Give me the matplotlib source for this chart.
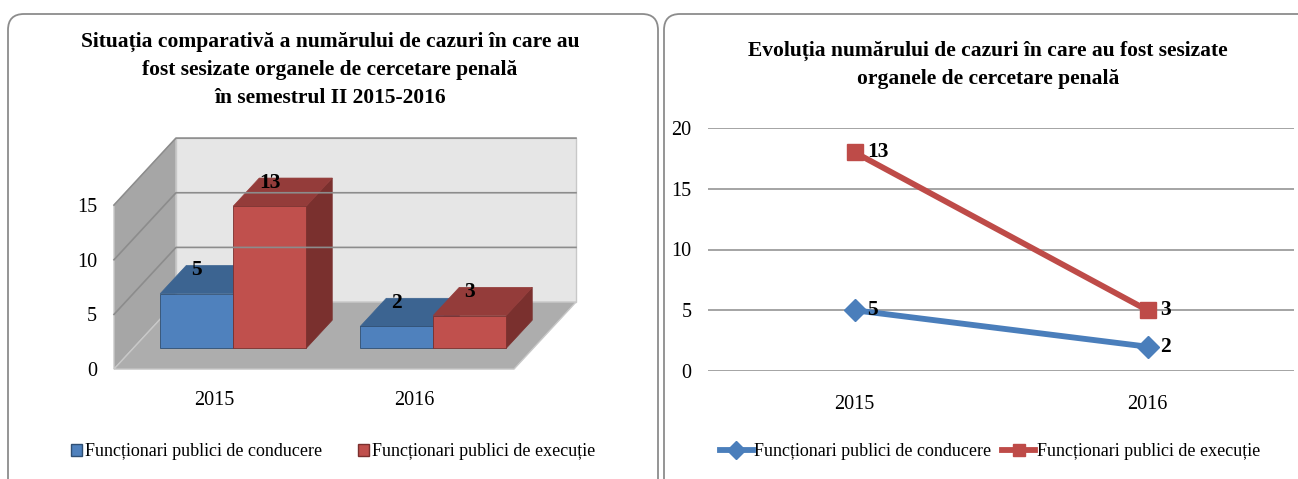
import numpy as np
import matplotlib
matplotlib.use('Agg')
import matplotlib.pyplot as plt
from matplotlib.patches import Polygon, FancyBboxPatch, Patch
from matplotlib.lines import Line2D

plt.rcParams['font.family'] = ['Liberation Serif', 'DejaVu Serif']

# data
years = ['2015', '2016']
conducere = [5, 2]
executie = [13, 3]
names = ['Funcționari publici de conducere', 'Funcționari publici de execuție']
title_left = 'Situația comparativă a numărului de cazuri în care au\nfost sesizate organele de cercetare penală\nîn semestrul II 2015-2016'
title_right = 'Evoluția numărului de cazuri în care au fost sesizate\norganele de cercetare penală'

blue, red = '#4F81BD', '#C0504D'
blue_top, red_top = '#3C6491', '#943C3A'
blue_side, red_side = '#2F4F73', '#7A302E'

W, H = 1298, 479
fig = plt.figure(figsize=(W / 100, H / 100), dpi=100)

# background layer in pixel units for the two panel frames and titles
bg = fig.add_axes([0, 0, 1, 1], zorder=-5)
bg.set_xlim(0, W)
bg.set_ylim(H, 0)
bg.axis('off')
for x0, x1 in [(8, 658), (664, 1320)]:
    bg.add_patch(FancyBboxPatch((x0, 14), x1 - x0, 500, boxstyle='round,pad=0,rounding_size=16',
                                fc='white', ec='#8C8C8C', lw=1.3))
bg.text(330, 70, title_left, ha='center', va='center', fontsize=15.5, fontweight='bold',
        linespacing=1.55)
bg.text(988, 65, title_right, ha='center', va='center', fontsize=15.5, fontweight='bold',
        linespacing=1.55)

# ---------- left: pseudo 3D column chart ----------
ax1 = fig.add_axes([100 / W, (H - 380) / H, 500 / W, 250 / H])
ax1.set_xlim(-0.57, 1.93)
ax1.set_ylim(-1.0, 21.87)
DX, DY = 0.31, 6.13      # depth vector
d0, bd, w = 0.31, 0.42, 0.365


def proj(x, v, d):
    return (x + d * DX, v + d * DY)


vmax = 15
ax1.add_patch(Polygon([proj(-0.5, 0, 0), proj(-0.5, 0, 1), proj(-0.5, vmax, 1), proj(-0.5, vmax, 0)],
                      fc='#A6A6A6', ec='#C8C8C8', lw=1))
ax1.add_patch(Polygon([proj(-0.5, 0, 1), proj(1.5, 0, 1), proj(1.5, vmax, 1), proj(-0.5, vmax, 1)],
                      fc='#E6E6E6', ec='#C8C8C8', lw=1))
ax1.add_patch(Polygon([proj(-0.5, 0, 0), proj(1.5, 0, 0), proj(1.5, 0, 1), proj(-0.5, 0, 1)],
                      fc='#ADADAD', ec='#C8C8C8', lw=1))
for v in [5, 10, 15]:
    pts = np.array([proj(-0.5, v, 0), proj(-0.5, v, 1), proj(1.5, v, 1)])
    ax1.plot(pts[:, 0], pts[:, 1], color='#8C8C8C', lw=1.2)

for i in range(len(years)):
    for s, (vals, cf, ct, cs) in enumerate([(conducere, blue, blue_top, blue_side),
                                            (executie, red, red_top, red_side)]):
        v = vals[i]
        x0 = i - w + s * w
        ax1.add_patch(Polygon([proj(x0 + w, 0, d0), proj(x0 + w, 0, d0 + bd),
                               proj(x0 + w, v, d0 + bd), proj(x0 + w, v, d0)], fc=cs, ec=cs, lw=0.5))
        ax1.add_patch(Polygon([proj(x0, v, d0), proj(x0 + w, v, d0),
                               proj(x0 + w, v, d0 + bd), proj(x0, v, d0 + bd)], fc=ct, ec=ct, lw=0.5))
        ax1.bar(x0 + d0 * DX, v, width=w, bottom=d0 * DY, align='edge', color=cf,
                edgecolor=cs, lw=0.6)
        ax1.text(x0 + w / 2 + d0 * DX, v + (d0 + 0.35) * DY, str(v), ha='center', va='center',
                 fontsize=15.5, fontweight='bold')

ax1.set_yticks([0, 5, 10, 15])
ax1.set_yticklabels(['0', '5', '10', '15'], fontsize=14.5)
ax1.set_xticks(range(len(years)))
ax1.set_xticklabels(years, fontsize=14.5)
ax1.tick_params(axis='y', length=0, pad=2)
ax1.tick_params(axis='x', length=0, pad=8)
for sp in ax1.spines.values():
    sp.set_visible(False)
ax1.patch.set_alpha(0)

fig.legend(handles=[Patch(fc=blue, ec=blue_side, label=names[0]),
                    Patch(fc=red, ec=red_side, label=names[1])],
           loc='center', bbox_to_anchor=(333 / W, 1 - 452 / H), ncol=2, frameon=False,
           fontsize=13, handlelength=0.6, handleheight=0.6, handletextpad=0.15,
           columnspacing=2.0)

# ---------- right: stacked line chart ----------
ax2 = fig.add_axes([708 / W, (H - 371) / H, 586 / W, (371 - 128) / H])
x = np.arange(len(years))
stacked = np.array(conducere) + np.array(executie)
ax2.plot(x, conducere, color='#4A7EBB', lw=4.2, marker='D', ms=11, label=names[0])
ax2.plot(x, stacked, color='#BE4B48', lw=4.2, marker='s', ms=11, label=names[1])
for i in range(len(years)):
    ax2.annotate(str(conducere[i]), (x[i], conducere[i]), xytext=(9, 0), textcoords='offset points',
                 ha='left', va='center', fontsize=15.5, fontweight='bold')
    ax2.annotate(str(executie[i]), (x[i], stacked[i]), xytext=(9, 0), textcoords='offset points',
                 ha='left', va='center', fontsize=15.5, fontweight='bold')
ax2.set_xlim(-0.5, 1.5)
ax2.set_ylim(0, 20)
ax2.set_yticks([0, 5, 10, 15, 20])
ax2.set_yticklabels(['0', '5', '10', '15', '20'], fontsize=14.5)
ax2.set_xticks(x)
ax2.set_xticklabels(years, fontsize=14.5)
ax2.tick_params(axis='y', length=0, pad=12)
ax2.tick_params(axis='x', length=0, pad=17)
ax2.grid(axis='y', color='#8C8C8C', lw=1.1)
ax2.set_axisbelow(True)
for sp in ax2.spines.values():
    sp.set_visible(False)
ax2.patch.set_alpha(0)

fig.legend(handles=[Line2D([], [], color='#4A7EBB', lw=4.2, marker='D', ms=9, label=names[0]),
                    Line2D([], [], color='#BE4B48', lw=4.2, marker='s', ms=9, label=names[1])],
           loc='center', bbox_to_anchor=(990 / W, 1 - 452 / H), ncol=2, frameon=False,
           fontsize=13, handlelength=1.8, handletextpad=0.1, columnspacing=0.6)

fig.savefig('out.png', dpi=100)
